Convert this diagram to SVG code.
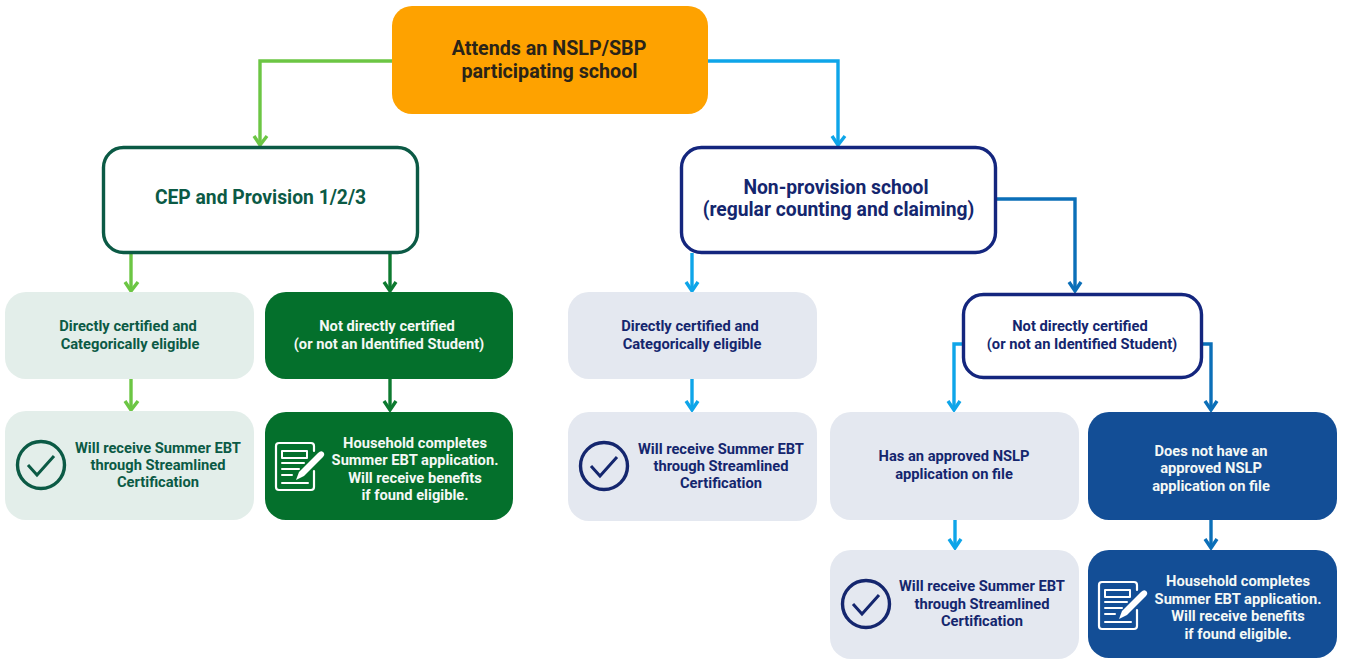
<svg xmlns="http://www.w3.org/2000/svg" width="1345" height="661" viewBox="0 0 1345 661">
<style>
text{font-family:Roboto,"Liberation Sans",sans-serif;font-weight:700;text-anchor:middle}
.s{font-size:14.7px}
.m{font-size:19.3px}
.r{font-size:19.700px;fill:#2a2418}
.gd{fill:#0b5a45}.w{fill:#f4f8f5}.nv{fill:#14266e}
.ic{fill:none;stroke-linecap:round;stroke-linejoin:round}
.c{fill:none;stroke-width:3.400}
.lg{stroke:#6cc644}.dg{stroke:#0d7a30}.lb{stroke:#0ea5e9}.db{stroke:#0b6fb8}
.gl{fill:#e3eeea}.gs{fill:#04702c}.bl{fill:#e4e8f0}.bs{fill:#134e96}
</style>
<defs>
<g id="check"><circle r="23.500" fill="none" stroke="currentColor" stroke-width="3.400"/><path d="M-13 0L-4 10L13-9" fill="none" stroke="currentColor" stroke-width="3"/></g>
<g id="doc" class="ic" stroke="#fff">
<path d="M38 8V3a3 3 0 0 0-3-3H3a3 3 0 0 0-3 3V44a3 3 0 0 0 3 3H35a3 3 0 0 0 3-3V28" stroke-width="2.200"/>
<rect x="6" y="8" width="25" height="7" stroke-width="2"/>
<path d="M6 20H28M6 26H23M6 32H16M6 40H32" stroke-width="2"/>
<path d="M23 29L42 10Q45 7 47 9L48 10Q49 12 47 14L28 33L20 37Z" fill="#fff" stroke="none"/>
</g>
</defs>
<rect width="1345" height="661" fill="#fff"/>
<g id="connectors" class="c">
<g class="lg"><path d="M392 61H260V145"/><path d="M131 253V291"/><path d="M131 379V410"/><path d="M254 136L260 145L267 136M125 282L131 291L138 282M125 401L131 410L138 401"/></g>
<g class="dg"><path d="M390 253V291"/><path d="M390 379V410"/><path d="M384 282L390 291L396 282M384 401L390 410L396 401"/></g>
<g class="lb"><path d="M708 61H838V145"/><path d="M692 253V291"/><path d="M692 379V410"/><path d="M963 344H954V410"/><path d="M955 520V548"/><path d="M832 136L838 145L845 136M686 282L692 291L698 282M686 401L692 410L698 401M948 401L954 410L960 401M949 539L955 548L961 539"/></g>
<g class="db"><path d="M995 199H1075V291"/><path d="M1202 344H1211V410"/><path d="M1211 520V548"/><path d="M1069 282L1075 291L1081 282M1205 401L1211 410L1217 401M1205 539L1211 548L1217 539"/></g>
</g>
<g id="n-root"><rect x="392" y="6" width="316" height="108" rx="20" fill="#fea200"/><text x="549" y="55" class="r">Attends an NSLP/SBP</text><text x="549.500" y="78" class="r">participating school</text></g>
<g id="n-cep"><rect x="103.500" y="147.500" width="314" height="105" rx="20" fill="#fff" stroke="#0b5a45" stroke-width="3.400"/><text x="260.500" y="204" class="m gd">CEP and Provision 1/2/3</text></g>
<g id="n-nonprov"><rect x="681.500" y="147.500" width="314" height="105" rx="20" fill="#fff" stroke="#14267e" stroke-width="3.400"/><text x="836" y="194" class="m nv">Non-provision school</text><text x="838.500" y="216" class="m nv">(regular counting and claiming)</text></g>
<g id="n-dc1"><rect x="5" y="292" width="249" height="87" rx="21" class="gl"/><text x="128" y="331" class="s gd">Directly certified and</text><text x="130" y="349" class="s gd">Categorically eligible</text></g>
<g id="n-ndc1"><rect x="265" y="292" width="248" height="87" rx="21" class="gs"/><text x="387" y="331" class="s w">Not directly certified</text><text x="389" y="349" class="s w">(or not an Identified Student)</text></g>
<g id="n-sc1" color="#0b5a45"><rect x="5" y="411" width="249" height="109" rx="21" class="gl"/><use href="#check" x="41" y="465"/><text x="158" y="453" class="s gd">Will receive Summer EBT</text><text x="158" y="470" class="s gd">through Streamlined</text><text x="158" y="487" class="s gd">Certification</text></g>
<g id="n-app1"><rect x="265" y="412" width="248" height="108" rx="21" class="gs"/><use href="#doc" x="276" y="443"/><text x="415" y="448" class="s w">Household completes</text><text x="415" y="465" class="s w">Summer EBT application.</text><text x="415" y="483" class="s w">Will receive benefits</text><text x="415" y="500" class="s w">if found eligible.</text></g>
<g id="n-dc2"><rect x="568" y="292" width="249" height="87" rx="21" class="bl"/><text x="690" y="331" class="s nv">Directly certified and</text><text x="692" y="349" class="s nv">Categorically eligible</text></g>
<g id="n-sc2" color="#14266e"><rect x="568" y="412" width="249" height="109" rx="21" class="bl"/><use href="#check" x="604" y="466"/><text x="721" y="454" class="s nv">Will receive Summer EBT</text><text x="721" y="471" class="s nv">through Streamlined</text><text x="721" y="488" class="s nv">Certification</text></g>
<g id="n-ndc2"><rect x="963.500" y="294.500" width="238" height="83" rx="20" fill="#fff" stroke="#14267e" stroke-width="3.400"/><text x="1080" y="331" class="s nv">Not directly certified</text><text x="1082" y="349" class="s nv">(or not an Identified Student)</text></g>
<g id="n-has"><rect x="830" y="412" width="249" height="108" rx="21" class="bl"/><text x="954" y="461" class="s nv">Has an approved NSLP</text><text x="954" y="479" class="s nv">application on file</text></g>
<g id="n-hasnot"><rect x="1088" y="412" width="249" height="108" rx="21" class="bs"/><text x="1211" y="456" class="s w">Does not have an</text><text x="1211" y="473" class="s w">approved NSLP</text><text x="1211" y="491" class="s w">application on file</text></g>
<g id="n-sc3" color="#14266e"><rect x="830" y="550" width="249" height="109" rx="21" class="bl"/><use href="#check" x="866" y="604"/><text x="982" y="591" class="s nv">Will receive Summer EBT</text><text x="982" y="609" class="s nv">through Streamlined</text><text x="982" y="626" class="s nv">Certification</text></g>
<g id="n-app2"><rect x="1088" y="550" width="249" height="108" rx="21" class="bs"/><use href="#doc" x="1099" y="582"/><text x="1238" y="586" class="s w">Household completes</text><text x="1238" y="604" class="s w">Summer EBT application.</text><text x="1238" y="621" class="s w">Will receive benefits</text><text x="1238" y="639" class="s w">if found eligible.</text></g>
</svg>
